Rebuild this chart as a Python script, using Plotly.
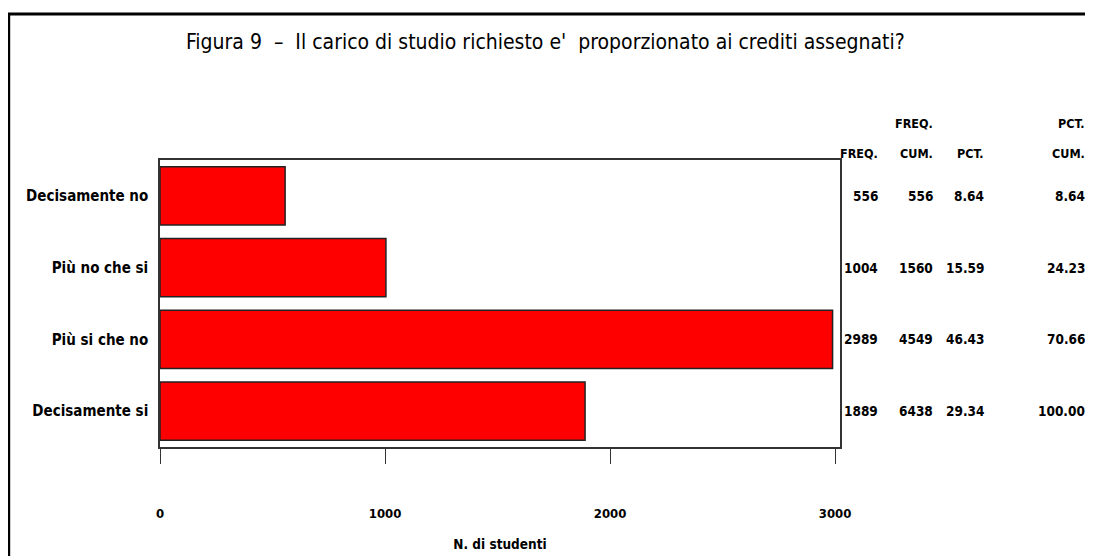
import plotly.graph_objects as go

categories = ["Decisamente no", "Più no che si", "Più si che no", "Decisamente si"]
freq = [556, 1004, 2989, 1889]
freq_cum = [556, 1560, 4549, 6438]
pct = [8.64, 15.59, 46.43, 29.34]
pct_cum = [8.64, 24.23, 70.66, 100.00]
x_ticks = [0, 1000, 2000, 3000]

W, H = 1093, 556
OFF = 8  # default page body margin in the written html
L, R, T, B = 160, 840, 160, 447  # plot frame in page pixels

def px(xp):
    return (xp - L) / (R - L)

def py(yp):
    return (B - yp) / (B - T)

FONT = "DejaVu Sans Condensed, DejaVu Sans, sans-serif"
TITLE_FONT = "Liberation Sans Narrow, DejaVu Sans Condensed, sans-serif"

fig = go.Figure()
fig.add_trace(go.Bar(
    y=categories, x=freq, orientation="h",
    marker=dict(color="#ff0000", line=dict(color="#222222", width=1.5)),
    width=0.81, hoverinfo="skip",
))

fig.update_layout(
    width=W, height=H,
    margin=dict(l=L - OFF, r=W - (R - OFF), t=T - OFF, b=H - (B - OFF), pad=0),
    paper_bgcolor="white", plot_bgcolor="white",
    showlegend=False,
    xaxis=dict(
        range=[0, 3022], tickvals=x_ticks, ticktext=[str(v) for v in x_ticks],
        ticks="outside", ticklen=15, tickwidth=1.2, tickcolor="#333333",
        showline=True, linecolor="#333333", linewidth=1.5, mirror=True,
        showgrid=False, zeroline=False,
        tickfont=dict(family=FONT, size=13, color="black", weight="bold"),
        ticklabelstandoff=39,
        title=dict(text="N. di studenti", font=dict(family=FONT, size=13.5, color="black", weight="bold"), standoff=19),
    ),
    yaxis=dict(
        categoryorder="array", categoryarray=categories,
        autorange="reversed",
        showline=True, linecolor="#333333", linewidth=1.5, mirror=True,
        showgrid=False, zeroline=False, ticks="",
        tickfont=dict(family=FONT, size=15, color="black", weight="bold"),
        ticklabelstandoff=7,
    ),
)

# Title
fig.add_annotation(
    text="Figura 9 &nbsp;–&nbsp; Il carico di studio richiesto e' &nbsp;proporzionato ai crediti assegnati?",
    xref="paper", yref="paper", x=px(545), y=py(42), xanchor="center", yanchor="middle",
    showarrow=False, font=dict(family=TITLE_FONT, size=21, color="black"),
)

# Table headers and values
col_right = [880, 935, 986, 1087]
headers_top = ["", "FREQ.", "", "PCT."]
headers_bot = ["FREQ.", "CUM.", "PCT.", "CUM."]
cols = [
    [str(v) for v in freq],
    [str(v) for v in freq_cum],
    [f"{v:.2f}" for v in pct],
    [f"{v:.2f}" for v in pct_cum],
]
TFONT = dict(family=FONT, size=13.5, color="black", weight="bold")
HFONT = dict(family=FONT, size=12.5, color="black", weight="bold")
for i, xr in enumerate(col_right):
    if headers_top[i]:
        fig.add_annotation(text=headers_top[i], xref="paper", yref="paper", x=px(xr), y=py(124),
                           xanchor="right", yanchor="middle", showarrow=False, font=HFONT)
    fig.add_annotation(text=headers_bot[i], xref="paper", yref="paper", x=px(xr), y=py(153),
                       xanchor="right", yanchor="middle", showarrow=False, font=HFONT)
    for cat, val in zip(categories, cols[i]):
        fig.add_annotation(text=val, xref="paper", yref="y", x=px(xr), y=cat,
                           xanchor="right", yanchor="middle", showarrow=False, font=TFONT)

# Outer border
fig.add_shape(type="rect", xref="paper", yref="paper",
              x0=px(8.7), x1=px(1110), y0=py(575), y1=py(14),
              line=dict(color="black", width=3), fillcolor="rgba(0,0,0,0)", layer="above")

fig.write_html("out.html")
